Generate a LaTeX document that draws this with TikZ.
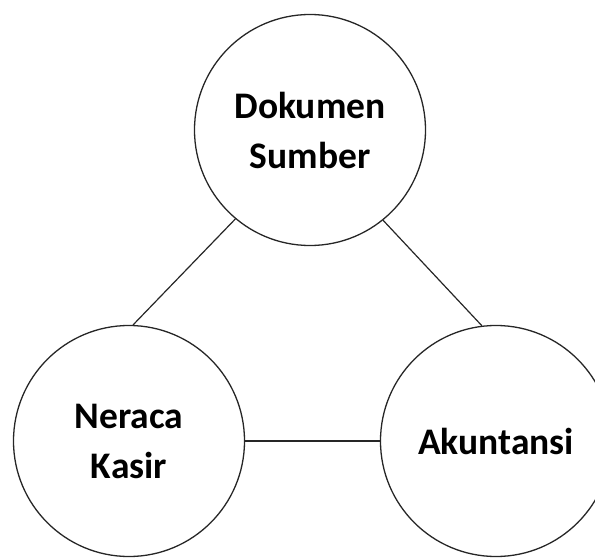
\documentclass[tikz,border=0pt]{standalone}
\usepackage{fontspec}
\setmainfont{Carlito}
\begin{document}
\begin{tikzpicture}[x=1pt,y=-1pt,
  bubble/.style={circle,draw=black!85,line width=1.3pt,minimum size=231pt,inner sep=0pt,
    align=center,font=\fontsize{37.5}{50}\selectfont\bfseries},
  link/.style={draw=black!85,line width=1.2pt}]
  \clip (0,0) rectangle (595,559);
  \node[bubble] (doc) at (310,130) {Dokumen\\Sumber};
  \node[bubble] (ner) at (129,441) {Neraca\\Kasir};
  \node[bubble] (aku) at (496,441) {Akuntansi};
  \draw[link] (doc.230) -- (ner.88);
  \draw[link] (doc.309) -- (aku.97);
  \draw[link] (ner.east) -- (aku.west);
\end{tikzpicture}
\end{document}
